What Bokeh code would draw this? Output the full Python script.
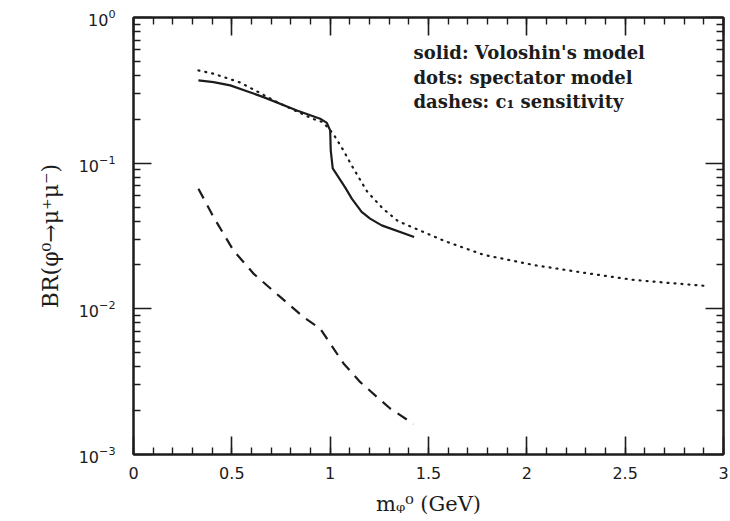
from bokeh.plotting import figure
from bokeh.models import (LinearAxis, LogAxis, FixedTicker, SingleIntervalTicker,
                          Label, Range1d)
from bokeh.embed import file_html
from bokeh.resources import INLINE

# ---- data ----
solid_m = [0.330, 0.407, 0.492, 0.577, 0.661, 0.831, 0.949, 0.983, 1.000, 1.003, 1.013, 1.076,
           1.110, 1.160, 1.203, 1.262, 1.427]
solid_br = [0.370, 0.360, 0.342, 0.312, 0.284, 0.230, 0.202, 0.189, 0.168, 0.122, 0.0921, 0.0682,
            0.0571, 0.0463, 0.0416, 0.0374, 0.0311]

dots_m = [0.330, 0.407, 0.542, 0.746, 0.914, 0.964, 1.017, 1.068, 1.109, 1.187, 1.269, 1.346, 1.424,
          1.585, 1.779, 2.034, 2.288, 2.542, 2.712, 2.899]
dots_br = [0.433, 0.411, 0.358, 0.256, 0.201, 0.191, 0.158, 0.122, 0.0966, 0.0641, 0.0486, 0.0399, 0.0360,
           0.0291, 0.0235, 0.0200, 0.0177, 0.0158, 0.0151, 0.0144]

dash_m = [0.330, 0.407, 0.508, 0.610, 0.746, 0.864, 0.949, 1.000, 1.068, 1.152, 1.237, 1.305, 1.424]
dash_br = [0.0668, 0.0427, 0.0252, 0.01746, 0.01207, 0.00879, 0.00733, 0.00578, 0.00422, 0.00315,
           0.00249, 0.00207, 0.00162]

y_major = [1e-3, 1e-2, 1e-1, 1.0]
y_minor = [k * d for d in [1e-3, 1e-2, 1e-1] for k in range(2, 10)]

legend_lines = ["solid: Voloshin's model", "dots: spectator model", "dashes: c\u2081 sensitivity"]
x_title = "m\u1d69\u2070 (GeV)"
y_title = "BR(\u03c6\u2070\u2192\u03bc\u207a\u03bc\u207b)"

INK = "#1c1c1c"

W, H = 730, 521
L, R, T, B = 133, 7, 17, 67
FW, FH = W - L - R, H - T - B


def px_to_data(px, py):
    m = (px - L) / FW * 3.0
    ly = -3.0 * (py - T) / FH
    return m, 10 ** ly


p = figure(width=W, height=H, x_range=Range1d(0, 3), y_range=Range1d(1e-3, 1.0),
           y_axis_type="log", output_backend="svg", toolbar_location=None,
           min_border_left=L, min_border_right=R, min_border_top=T, min_border_bottom=B)
p.grid.visible = False
p.outline_line_color = INK
p.outline_line_width = 2
p.background_fill_color = "white"
p.border_fill_color = "white"

xt = SingleIntervalTicker(interval=0.5, num_minor_ticks=5)
yt = FixedTicker(ticks=y_major, minor_ticks=y_minor)


def style(ax, show_labels=True):
    ax.axis_line_color = INK
    ax.axis_line_width = 2
    ax.major_tick_in = 18
    ax.major_tick_out = 0
    ax.minor_tick_in = 7
    ax.minor_tick_out = 0
    ax.major_tick_line_color = INK
    ax.minor_tick_line_color = INK
    ax.major_tick_line_width = 1.6
    ax.minor_tick_line_width = 1.4
    ax.major_label_text_font = "DejaVu Sans"
    if show_labels:
        ax.major_label_text_color = INK
        ax.major_label_text_font_size = "16px"
    else:
        ax.major_label_text_color = None
        ax.major_label_text_font_size = "1px"
        ax.major_label_standoff = 0


xa = p.xaxis[0]
xa.ticker = xt
style(xa)
xa.major_label_standoff = 12
xa.axis_label = x_title
xa.axis_label_text_font = "DejaVu Serif"
xa.axis_label_text_font_style = "normal"
xa.axis_label_text_font_size = "21px"
xa.axis_label_text_color = INK
xa.axis_label_standoff = 10

ya = p.yaxis[0]
ya.ticker = yt
style(ya)
ya.major_label_standoff = 18
ya.axis_label = y_title
ya.axis_label_text_font = "DejaVu Serif"
ya.axis_label_text_font_style = "normal"
ya.axis_label_text_font_size = "22px"
ya.axis_label_text_color = INK
ya.axis_label_standoff = 13

top = LinearAxis(ticker=xt)
style(top, False)
p.add_layout(top, "above")
right = LogAxis(ticker=yt)
style(right, False)
p.add_layout(right, "right")

# curves
p.line(solid_m, solid_br, line_color=INK, line_width=2.2, line_join="round")
p.line(dots_m, dots_br, line_color=INK, line_width=2.2, line_dash="1 6", line_cap="round")
p.line(dash_m, dash_br, line_color=INK, line_width=2.2, line_dash="11 8")

# legend text block
for i, txt in enumerate(legend_lines):
    lx, ly = px_to_data(413, 52 + 24.5 * i)
    p.add_layout(Label(x=lx, y=ly, text=txt, text_font="DejaVu Serif", text_font_style="bold",
                       text_font_size="18px", text_color=INK, text_baseline="middle",
                       text_align="left"))

open("out.html", "w").write(file_html(p, INLINE))
